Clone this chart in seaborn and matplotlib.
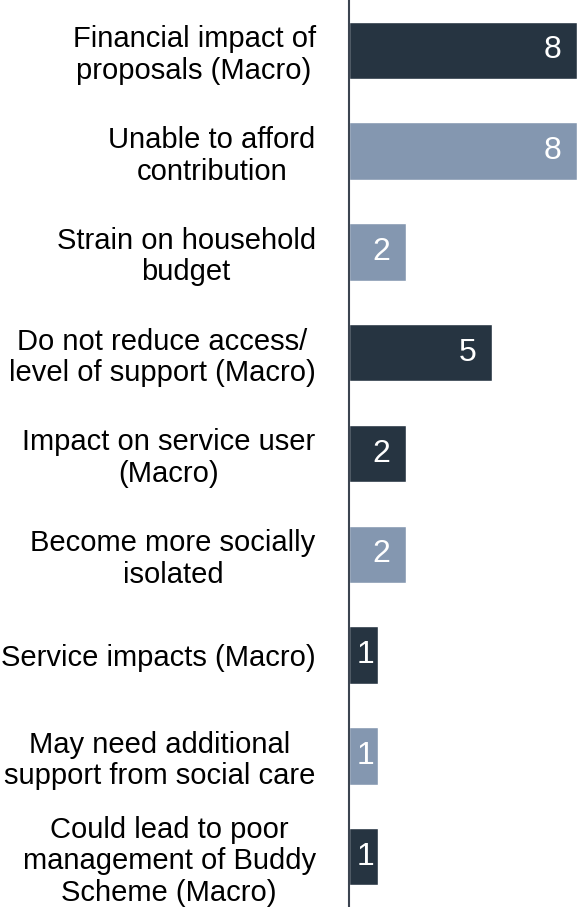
import matplotlib
matplotlib.use("Agg")
import matplotlib.pyplot as plt
import seaborn as sns
import pandas as pd

# data
categories = [
    "Financial impact of\nproposals (Macro)",
    "Unable to afford\ncontribution",
    "Strain on household\nbudget",
    "Do not reduce access/\nlevel of support (Macro)",
    "Impact on service user\n(Macro)",
    "Become more socially\nisolated",
    "Service impacts (Macro)",
    "May need additional\nsupport from social care",
    "Could lead to poor\nmanagement of Buddy\nScheme (Macro)",
]
counts = [8, 8, 2, 5, 2, 2, 1, 1, 1]
groups = ["Macro", "Detail", "Detail", "Macro", "Macro", "Detail", "Macro", "Detail", "Macro"]

DARK = "#263441"
LIGHT = "#8497b0"

df = pd.DataFrame({"category": categories, "count": counts, "group": groups})

sns.set_style("white")
plt.rcParams["font.family"] = ["Liberation Sans", "DejaVu Sans"]

fig = plt.figure(figsize=(5.77, 9.07), dpi=100)
ax = fig.add_axes([349 / 577, 0, 1 - 349 / 577, 1])

sns.barplot(data=df, x="count", y="category", hue="group",
            palette={"Macro": DARK, "Detail": LIGHT},
            orient="h", width=0.57, dodge=False, legend=False,
            saturation=1, ax=ax)

ax.set_xlim(0, 8)
ax.set_ylim(8.5, -0.5)
ax.set_xlabel("")
ax.set_ylabel("")
ax.set_xticks([])
for side in ["top", "right", "bottom"]:
    ax.spines[side].set_visible(False)
ax.spines["left"].set_color("#3b4450")
ax.spines["left"].set_linewidth(1.5)

ax.tick_params(axis="y", length=0, pad=24, labelsize=21, labelcolor="black")
for lbl in ax.get_yticklabels():
    lbl.set_multialignment("center")
    lbl.set_linespacing(1.16)

# value labels inside the bar ends
px_per_unit = (577 - 349) / 8
for i, v in enumerate(counts):
    if v * px_per_unit < 45:
        ax.annotate(str(v), xy=(v / 2, i), xytext=(1.5, 0),
                    textcoords="offset points", color="white",
                    fontsize=23, ha="center", va="center")
    else:
        ax.annotate(str(v), xy=(v, i), xytext=(-11, 0),
                    textcoords="offset points", color="white",
                    fontsize=23, ha="right", va="center")

fig.savefig("out.png", dpi=100)
